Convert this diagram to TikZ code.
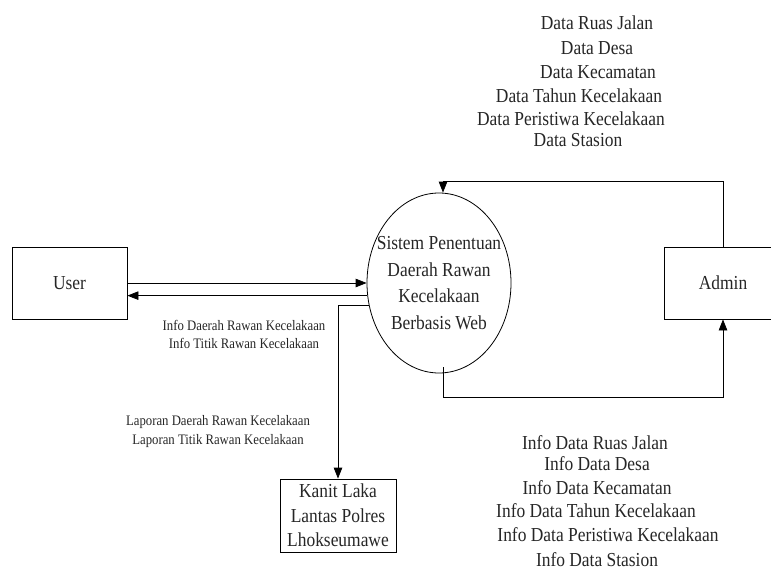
\documentclass[tikz,border=0pt]{standalone}
\usepackage{fontspec}
\setmainfont{Liberation Serif}
\usetikzlibrary{shapes.geometric,arrows.meta}
\newcommand\sq[1]{\scalebox{0.88}[1]{#1}}
\begin{document}
\begin{tikzpicture}[x=1pt,y=-1pt,
  big/.style={font=\fontsize{19.8}{24}\selectfont, text=black!85, inner sep=0pt},
  small/.style={font=\fontsize{14.5}{18}\selectfont, text=black!85, inner sep=0pt, align=center},
  entity/.style={draw, line width=0.8pt, inner sep=0pt, font=\fontsize{19.8}{24}\selectfont, text=black!85},
  arr/.style={line width=0.8pt, -{Triangle[length=11pt,width=8.5pt]}},
  ln/.style={line width=0.8pt}]
\useasboundingbox (0,0) rectangle (771,570);
% entities
\node[entity, minimum width=115pt, minimum height=72pt] (user) at (69.5,283) {\sq{User}};
\node[entity, minimum width=118pt, minimum height=72pt] (admin) at (723,283) {\sq{Admin}};
\node[entity, minimum width=116pt, minimum height=73pt, align=center, font=\fontsize{19.8}{24.5}\selectfont] (kanit) at (338,515.5) {\sq{Kanit Laka}\\\sq{Lantas Polres}\\\sq{Lhokseumawe}};
% process
\node[ellipse, draw, line width=0.8pt, minimum width=144pt, minimum height=180pt, inner sep=0pt] (sys) at (439,283) {};
\node[align=center, inner sep=0pt, font=\fontsize{19.8}{26.5}\selectfont, text=black!85] (systext) at (sys.center) {\sq{Sistem Penentuan}\\\sq{Daerah Rawan}\\\sq{Kecelakaan}\\\sq{Berbasis Web}};
% connectors
\draw[arr] (user.east) -- (sys.west);
\draw[arr] (sys.190) -- (user.east |- sys.190);
\draw[arr] (sys.198) -| (kanit.north);
\draw[arr] (admin.north) -- ++(0,-65) -| ([xshift=4pt]sys.north);
\draw[arr] ([xshift=4pt,yshift=6pt]sys.south) -- ++(0,30) -| (admin.south);
% labels top
\node[big] (t1) at (597,23) {\sq{Data Ruas Jalan}};
\node[big] (t2) at (597,48) {\sq{Data Desa}};
\node[big] (t3) at (598,72) {\sq{Data Kecamatan}};
\node[big] (t4) at (579,96) {\sq{Data Tahun Kecelakaan}};
\node[big] (t5) at (571,119) {\sq{Data Peristiwa Kecelakaan}};
\node[big] (t6) at (578,140) {\sq{Data Stasion}};
% labels bottom right
\node[big] (b1) at (595,443) {\sq{Info Data Ruas Jalan}};
\node[big] (b2) at (597,464) {\sq{Info Data Desa}};
\node[big] (b3) at (597,488) {\sq{Info Data Kecamatan}};
\node[big] (b4) at (596,511) {\sq{Info Data Tahun Kecelakaan}};
\node[big] (b5) at (608,535) {\sq{Info Data Peristiwa Kecelakaan}};
\node[big] (b6) at (597,560) {\sq{Info Data Stasion}};
% small labels
\node[small] (l1) at (244,334) {\sq{Info Daerah Rawan Kecelakaan}\\\sq{Info Titik Rawan Kecelakaan}};
\node[small, font=\fontsize{14.5}{19}\selectfont] (l2) at (218,431.5) {\sq{Laporan Daerah Rawan Kecelakaan}\\\sq{Laporan Titik Rawan Kecelakaan}};
\end{tikzpicture}
\end{document}
